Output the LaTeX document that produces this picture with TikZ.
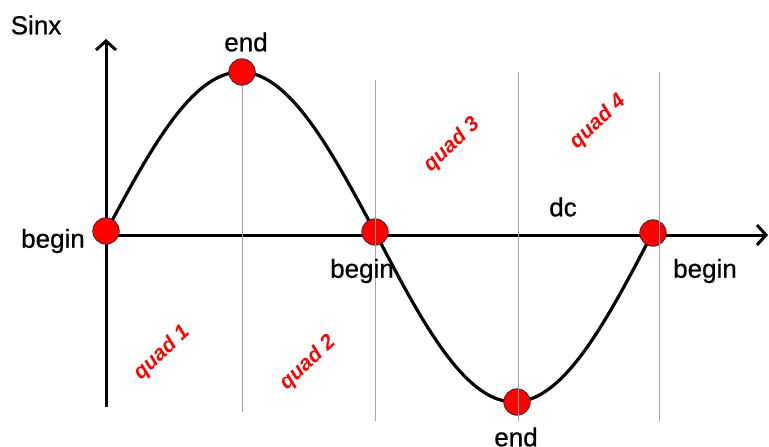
\documentclass[tikz,border=0pt]{standalone}
\usepackage{fontspec}
\setmainfont{Liberation Sans}
\newfontfamily\lblfont[FakeBold=0.7]{Liberation Sans}
\usetikzlibrary{arrows.meta}
\begin{document}
\begin{tikzpicture}[x=1pt,y=-1pt,
  axisline/.style={line width=3pt,-{Straight Barb[length=9pt,width=20pt]}},
  wave/.style={line width=3.2pt},
  guide/.style={line width=0.9pt,draw=black!35},
  dot/.style={circle,minimum size=26.5pt,inner sep=0pt,fill=red,draw=black!85,line width=0.7pt},
  lbl/.style={font=\lblfont\fontsize{26}{30}\selectfont,inner sep=0pt},
  quadlbl/.style={font=\fontsize{21}{25}\selectfont\bfseries\itshape,text=red,rotate=43,inner sep=0pt}]
\useasboundingbox (0,0) rectangle (769,447);
% axes
\coordinate (ybot) at (106,407);
\coordinate (ytop) at (106,39);
\coordinate (xl) at (106,235);
\coordinate (xr) at (768,235);
\draw[axisline] (ybot) -- (ytop);
\draw[axisline] (xl) -- (xr);
% sine curve
\draw[wave] plot[domain=0:1,samples=80,smooth] ({106+269*\x},{232-160*sin(180*\x)})
  -- plot[domain=0:1,samples=80,smooth] ({375+278*\x},{232+170*sin(180*\x)});
% dots
\node[dot] (b1) at (106,231) {};
\node[dot] (e1) at (242,72) {};
\node[dot] (b2) at (375,232) {};
\node[dot] (e2) at (517,402) {};
\node[dot] (b3) at (653,233) {};
% guide lines
\coordinate (g1t) at (242,86);  \coordinate (g1b) at (242,412);
\coordinate (g2t) at (375,80);  \coordinate (g2b) at (375,421);
\coordinate (g3t) at (518,72);  \coordinate (g3b) at (518,421);
\coordinate (g4t) at (659,72);  \coordinate (g4b) at (659,421);
\draw[guide] (g1t) -- (g1b);
\draw[guide] (g2t) -- (g2b);
\draw[guide] (g3t) -- (g3b);
\draw[guide] (g4t) -- (g4b);
% labels
\node[lbl] (sinx) at (36,25) {Sinx};
\node[lbl] (tend) at (246,42) {end};
\node[lbl] (lbeg) at (53,241) {begin};
\node[lbl] (mbeg) at (362,271) {begin};
\node[lbl] (rbeg) at (705,271) {begin};
\node[lbl] (bend) at (516,437) {end};
\node[lbl] (dc) at (563,207) {dc};
\node[quadlbl] (q1) at (162,353) {quad 1};
\node[quadlbl] (q2) at (308,363) {quad 2};
\node[quadlbl] (q3) at (452,145) {quad 3};
\node[quadlbl] (q4) at (598,122) {quad 4};
\end{tikzpicture}
\end{document}
